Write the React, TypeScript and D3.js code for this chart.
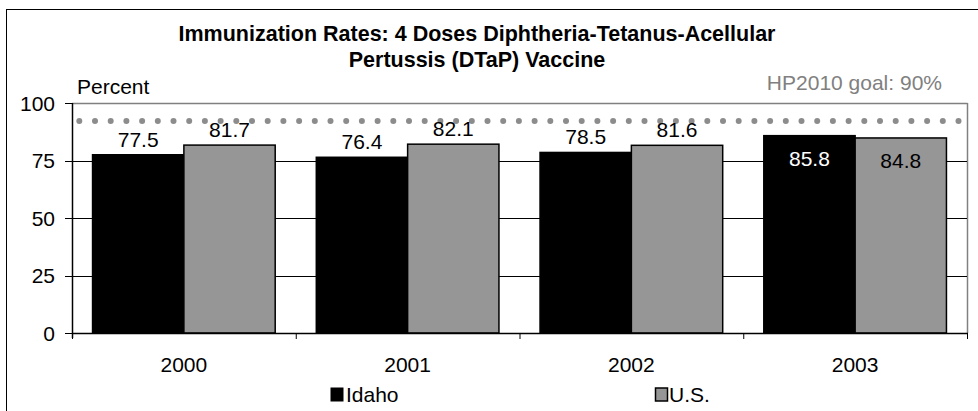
import React from "react";
import * as d3 from "d3";

const years = ["2000", "2001", "2002", "2003"];
const seriesNames = ["Idaho", "U.S."];
const idaho = [77.5, 76.4, 78.5, 85.8];
const us = [81.7, 82.1, 81.6, 84.8];
const yTicks = [0, 25, 50, 75, 100];
const goalLineValue = 92.2;
const goalLabel = "HP2010 goal: 90%";
const insideLabelYears = ["2003"];

const W = 978;
const H = 411;
const FONT = "'Liberation Sans', Arial, sans-serif";
const colors = { Idaho: "#000000", "U.S.": "#969696" } as Record<string, string>;

export default function App() {
  const left = 72, right = 967, top = 103, bottom = 333;
  const y = d3.scaleLinear().domain([0, 100]).range([bottom, top]);
  const x = d3.scaleBand().domain(years).range([left, right]).padding(0);
  const xs = d3.scaleBand().domain(seriesNames).range([0, x.bandwidth()]).paddingInner(0).paddingOuter(0.225);
  const values: Record<string, number[]> = { Idaho: idaho, "U.S.": us };

  const dotStep = 15.7;
  const dots = d3.range(left + 7.3, right - 4, dotStep);
  const boundaries = [...years.map((yr) => x(yr)!), right];

  return (
    <svg width={W} height={H} style={{ position: "absolute", left: 0, top: 0, background: "#fff" }} fontFamily={FONT}>
      <rect x={0} y={0} width={W} height={H} fill="#fff" />
      <rect x={6.5} y={9.5} width={990} height={420} fill="none" stroke="#000" strokeWidth={1} />
      {/* title */}
      <text x={477} y={41} textAnchor="middle" fontSize={21.5} fontWeight="bold">
        Immunization Rates: 4 Doses Diphtheria-Tetanus-Acellular
      </text>
      <text x={477} y={67} textAnchor="middle" fontSize={21.5} fontWeight="bold">
        Pertussis (DTaP) Vaccine
      </text>
      <text x={77} y={94} fontSize={21}>Percent</text>
      <text x={942} y={90} fontSize={21} textAnchor="end" fill="#808080">{goalLabel}</text>

      {/* plot border */}
      <line x1={left} x2={right + 0.5} y1={top + 0.5} y2={top + 0.5} stroke="#808080" strokeWidth={1.5} />
      <line x1={right + 0.5} x2={right + 0.5} y1={top} y2={bottom} stroke="#808080" strokeWidth={1.5} />

      {/* gridlines */}
      {yTicks.filter((t) => t > 0 && t < 100).map((t) => (
        <line key={t} x1={left} x2={right} y1={Math.round(y(t)) + 0.5} y2={Math.round(y(t)) + 0.5} stroke="#000" strokeWidth={1} />
      ))}

      {/* y ticks and labels */}
      {yTicks.map((t) => (
        <g key={t}>
          <line x1={65} x2={left} y1={Math.round(y(t)) + 0.5} y2={Math.round(y(t)) + 0.5} stroke="#000" />
          <text x={55} y={y(t) + 7.5} textAnchor="end" fontSize={21}>{t}</text>
        </g>
      ))}

      {/* goal dotted line */}
      {dots.map((dx, i) => (
        <circle key={i} cx={dx} cy={y(goalLineValue)} r={3} fill="#8c8c8c" />
      ))}

      {/* outside labels (drawn beneath bars) */}
      {years.map((yr, i) =>
        insideLabelYears.includes(yr)
          ? null
          : seriesNames.map((s) => {
              const v = values[s][i];
              const cx = x(yr)! + xs(s)! + xs.bandwidth() / 2;
              return (
                <text key={yr + s} x={cx} y={y(v) - 8} textAnchor="middle" fontSize={21}>
                  {v.toFixed(1)}
                </text>
              );
            })
      )}

      {/* bars */}
      {years.map((yr, i) =>
        seriesNames.map((s) => {
          const v = values[s][i];
          const bx = x(yr)! + xs(s)!;
          return (
            <rect key={yr + s} x={bx} y={y(v)} width={xs.bandwidth()} height={bottom - y(v)}
              fill={colors[s]} stroke="#000" strokeWidth={1.5} />
          );
        })
      )}

      {/* inside labels */}
      {years.map((yr, i) =>
        !insideLabelYears.includes(yr)
          ? null
          : seriesNames.map((s) => {
              const v = values[s][i];
              const cx = x(yr)! + xs(s)! + xs.bandwidth() / 2;
              return (
                <text key={yr + s} x={cx} y={y(v) + 30} textAnchor="middle" fontSize={21}
                  fill={s === "Idaho" ? "#fff" : "#000"}>
                  {v.toFixed(1)}
                </text>
              );
            })
      )}

      {/* axes */}
      <line x1={left + 0.5} x2={left + 0.5} y1={top} y2={bottom + 5} stroke="#000" strokeWidth={1.5} />
      <line x1={left} x2={right + 1} y1={bottom + 0.5} y2={bottom + 0.5} stroke="#000" strokeWidth={1.5} />
      {boundaries.map((bx, i) => (
        <line key={i} x1={bx + 0.5} x2={bx + 0.5} y1={bottom} y2={bottom + 6} stroke="#000" />
      ))}
      {years.map((yr) => (
        <text key={yr} x={x(yr)! + x.bandwidth() / 2} y={372} textAnchor="middle" fontSize={21}>{yr}</text>
      ))}

      {/* legend */}
      <rect x={331} y={388} width={12} height={13} fill="#000" stroke="#000" />
      <text x={346} y={402} fontSize={21}>Idaho</text>
      <rect x={655.5} y={388} width={12} height={13} fill="#969696" stroke="#000" strokeWidth={1.5} />
      <text x={669} y={402} fontSize={21}>U.S.</text>
    </svg>
  );
}
